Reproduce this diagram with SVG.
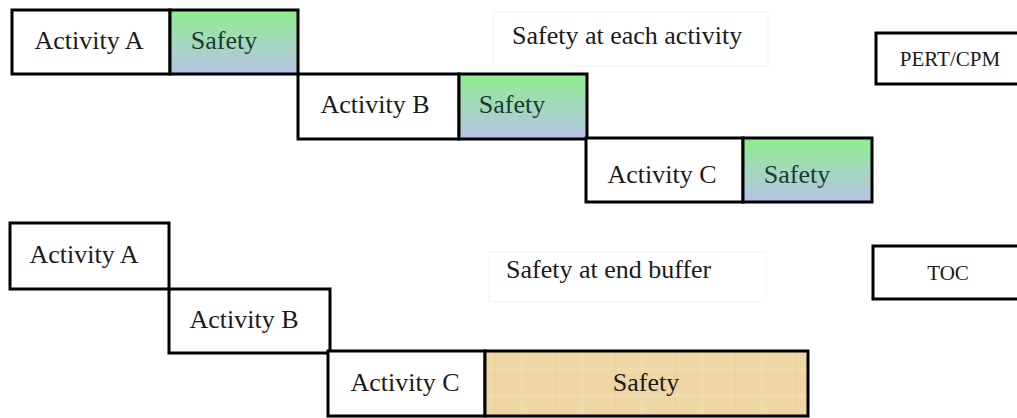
<svg xmlns="http://www.w3.org/2000/svg" width="1017" height="418" viewBox="0 0 1017 418">
<defs>
<linearGradient id="safeGrad" x1="0" y1="0" x2="0" y2="1">
<stop offset="0" stop-color="#8cee8e"/>
<stop offset="0.55" stop-color="#a6d6c0"/>
<stop offset="1" stop-color="#b4c2e6"/>
</linearGradient>
<pattern id="papyrus" width="60" height="64" patternUnits="userSpaceOnUse">
<rect width="60" height="64" fill="#eed6a5"/>
<rect x="0" y="10" width="60" height="3" fill="#f3dfb6" opacity="0.6"/>
<rect x="0" y="30" width="60" height="2" fill="#e8cd98" opacity="0.4"/>
<rect x="0" y="47" width="60" height="3" fill="#f3dfb6" opacity="0.5"/>
<rect x="14" y="0" width="2" height="64" fill="#e8cc96" opacity="0.25"/>
<rect x="41" y="0" width="3" height="64" fill="#f3dfb4" opacity="0.35"/>
</pattern>
<style>
.box{fill:#ffffff;stroke:#000000;stroke-width:3}
.safe{fill:url(#safeGrad);stroke:#000000;stroke-width:3}
.buf{fill:url(#papyrus);stroke:#000000;stroke-width:3}
.lbl{fill:#ffffff;stroke:#f4f4f4;stroke-width:1}
text{font-family:"Liberation Serif","Times New Roman",serif;fill:#1a1a1a}
.t{font-size:26px;text-anchor:middle}
.ts{font-size:26px;text-anchor:middle;fill:#1c3a30}
.tl{font-size:26px}
.tm{font-size:21px;text-anchor:middle}
</style>
</defs>
<g id="label-each">
<rect class="lbl" x="493" y="12" width="275" height="54"/>
<text class="tl" x="512" y="44">Safety at each activity</text>
</g>
<g id="label-end">
<rect class="lbl" x="489" y="252" width="277" height="50"/>
<text class="tl" x="506" y="278">Safety at end buffer</text>
</g>
<g id="pert">
<rect class="box" x="876" y="33" width="150" height="51"/>
<text class="tm" x="950" y="66">PERT/CPM</text>
</g>
<g id="toc">
<rect class="box" x="873" y="246" width="150" height="53"/>
<text class="tm" x="948" y="280">TOC</text>
</g>
<g id="top-a">
<rect class="box" x="12" y="10" width="158" height="64"/>
<text class="t" x="89" y="49">Activity A</text>
</g>
<g id="top-a-safety">
<rect class="safe" x="170" y="10" width="128" height="64"/>
<text class="ts" x="224" y="49">Safety</text>
</g>
<g id="top-b">
<rect class="box" x="298" y="74" width="161" height="65"/>
<text class="t" x="375" y="113">Activity B</text>
</g>
<g id="top-b-safety">
<rect class="safe" x="459" y="74" width="128" height="65"/>
<text class="ts" x="512" y="113">Safety</text>
</g>
<g id="top-c">
<rect class="box" x="586" y="138" width="157" height="64"/>
<text class="t" x="662" y="183">Activity C</text>
</g>
<g id="top-c-safety">
<rect class="safe" x="743" y="138" width="129" height="64"/>
<text class="ts" x="797" y="183">Safety</text>
</g>
<g id="bot-a">
<rect class="box" x="10" y="223" width="159" height="66"/>
<text class="t" x="84" y="263">Activity A</text>
</g>
<g id="bot-b">
<rect class="box" x="169" y="289" width="161" height="64"/>
<text class="t" x="244" y="328">Activity B</text>
</g>
<g id="bot-c">
<rect class="box" x="328" y="351" width="157" height="65"/>
<text class="t" x="405" y="391">Activity C</text>
</g>
<g id="bot-safety">
<rect class="buf" x="485" y="351" width="323" height="65"/>
<text class="t" x="646" y="391">Safety</text>
</g>
<g id="connectors"></g>
</svg>
